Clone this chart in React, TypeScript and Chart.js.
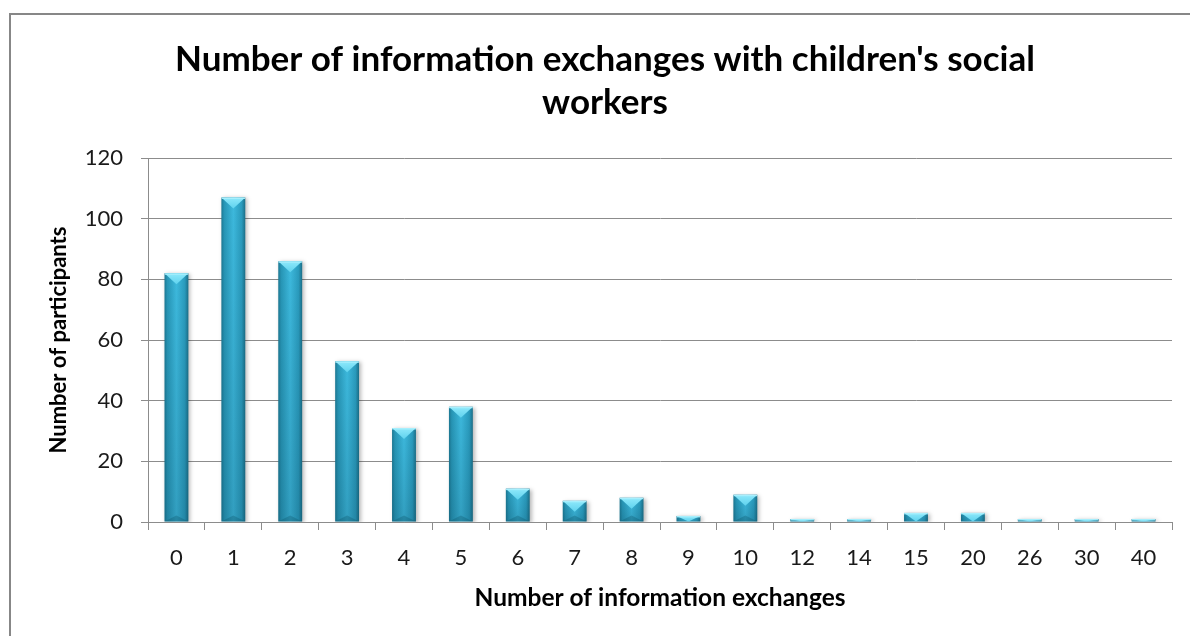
import React, { useEffect, useRef } from "react";
import { Chart, registerables } from "chart.js";

Chart.register(...registerables);

const categories = ["0", "1", "2", "3", "4", "5", "6", "7", "8", "9", "10", "12", "14", "15", "20", "26", "30", "40"];
const participants = [82, 107, 86, 53, 31, 38, 11, 7, 8, 2, 9, 1, 1, 3, 3, 1, 1, 1];
const titleLines = ["Number of information exchanges with children's social", "workers"];
const xTitle = "Number of information exchanges";
const yTitle = "Number of participants";
const yMin = 0;
const yMax = 120;
const yStep = 20;

const FONT = "Lato, 'Open Sans', sans-serif";
const GRID = "#8c8c8c";
const BAR_PCT = 0.42;

const framePlugin = {
  id: "frame",
  beforeDraw(chart: any) {
    const ctx = chart.ctx;
    ctx.save();
    ctx.fillStyle = "#ffffff";
    ctx.fillRect(0, 0, chart.width, chart.height);
    ctx.strokeStyle = "#878787";
    ctx.lineWidth = 2;
    ctx.strokeRect(10, 14, chart.width + 20, chart.height + 20);
    ctx.restore();
  },
};

const bevelPlugin = {
  id: "bevel",
  beforeDatasetsDraw(chart: any) {
    const ctx = chart.ctx;
    ctx.save();
    ctx.shadowColor = "rgba(0,0,0,0.28)";
    ctx.shadowBlur = 4;
    ctx.shadowOffsetX = 2;
    ctx.shadowOffsetY = 1;
  },
  afterDatasetsDraw(chart: any) {
    const ctx = chart.ctx;
    ctx.restore();
    const meta = chart.getDatasetMeta(0);
    meta.data.forEach((bar: any) => {
      const { x, y, base, width } = bar.getProps(["x", "y", "base", "width"], true);
      const left = x - width / 2;
      const right = x + width / 2;
      const h = base - y;
      if (h <= 0) return;
      ctx.save();
      ctx.beginPath();
      ctx.rect(left, y, width, h);
      ctx.clip();
      const vg = ctx.createLinearGradient(0, y, 0, base);
      vg.addColorStop(0, "rgba(0,40,60,0)");
      vg.addColorStop(1, "rgba(0,40,60,0.18)");
      ctx.fillStyle = vg;
      ctx.fillRect(left, y, width, h);
      const d = Math.min(11, h);
      ctx.beginPath();
      ctx.moveTo(left, y);
      ctx.lineTo(right, y);
      ctx.lineTo(x, y + d);
      ctx.closePath();
      const tg = ctx.createLinearGradient(0, y, 0, y + d);
      tg.addColorStop(0, "#8fe9fb");
      tg.addColorStop(1, "#5fd2ee");
      ctx.fillStyle = tg;
      ctx.fill();
      ctx.fillStyle = "rgba(170,240,253,0.9)";
      ctx.fillRect(left, y, width, Math.min(1.5, h));
      if (h > 14) {
        ctx.beginPath();
        ctx.moveTo(left, base);
        ctx.lineTo(right, base);
        ctx.lineTo(x, base - 6);
        ctx.closePath();
        ctx.fillStyle = "rgba(10,80,100,0.3)";
        ctx.fill();
      }
      ctx.restore();
    });
  },
};

export default function App() {
  const ref = useRef<HTMLCanvasElement | null>(null);

  useEffect(() => {
    if (!ref.current) return;
    const chart = new Chart(ref.current, {
      type: "bar",
      data: {
        labels: categories,
        datasets: [
          {
            label: yTitle,
            data: participants,
            barPercentage: BAR_PCT,
            categoryPercentage: 1,
            borderWidth: 0,
            backgroundColor: (c: any) => {
              const ch = c.chart;
              const xs = ch.scales && ch.scales.x;
              if (!xs || !ch.chartArea) return "#34afd3";
              const cx = xs.getPixelForValue(c.dataIndex);
              const w = (xs.width / categories.length) * BAR_PCT;
              const g = ch.ctx.createLinearGradient(cx - w / 2, 0, cx + w / 2, 0);
              g.addColorStop(0, "#1c7893");
              g.addColorStop(0.12, "#2796b6");
              g.addColorStop(0.5, "#3db9dd");
              g.addColorStop(0.85, "#2a9bbd");
              g.addColorStop(1, "#1b6f88");
              return g;
            },
          },
        ],
      },
      options: {
        responsive: false,
        animation: false,
        devicePixelRatio: 1,
        layout: { padding: { left: 38, right: 18, top: 38, bottom: 0 } },
        plugins: {
          legend: { display: false },
          tooltip: { enabled: false },
          title: {
            display: true,
            text: titleLines,
            color: "#000000",
            font: { family: FONT, size: 35, weight: "bold", lineHeight: 1.229 },
            padding: { top: 0, bottom: 34 },
          },
        },
        scales: {
          x: {
            offset: true,
            grid: {
              display: true,
              drawOnChartArea: false,
              drawTicks: true,
              tickLength: 8,
              color: GRID,
              offset: true,
            },
            border: { display: true, color: GRID, width: 1 },
            ticks: {
              color: "#1a1a1a",
              font: { family: FONT, size: 22 },
              padding: 15,
              maxRotation: 0,
              autoSkip: false,
            },
            title: {
              display: true,
              text: xTitle,
              color: "#000000",
              font: { family: FONT, size: 24.5, weight: "bold", lineHeight: 1.2 },
              padding: { top: 0, bottom: 23 },
            },
            afterFit: (s: any) => {
              s.height = 114;
            },
          },
          y: {
            min: yMin,
            max: yMax,
            grid: {
              color: GRID,
              lineWidth: 1,
              tickLength: 7,
              drawTicks: true,
            },
            border: { display: true, color: GRID, width: 1 },
            ticks: {
              stepSize: yStep,
              color: "#1a1a1a",
              font: { family: FONT, size: 22 },
              padding: 18,
            },
            title: {
              display: true,
              text: yTitle,
              color: "#000000",
              font: { family: FONT, size: 22, weight: "bold", lineHeight: 1.2 },
              padding: 8,
            },
            afterFit: (s: any) => {
              s.width = 110;
            },
          },
        },
      },
      plugins: [framePlugin, bevelPlugin],
    });
    return () => chart.destroy();
  }, []);

  return (
    <div style={{ position: "fixed", left: 0, top: 0, width: 1190, height: 636, background: "#fff" }}>
      <canvas ref={ref} width={1190} height={636} style={{ width: 1190, height: 636, display: "block" }} />
    </div>
  );
}
